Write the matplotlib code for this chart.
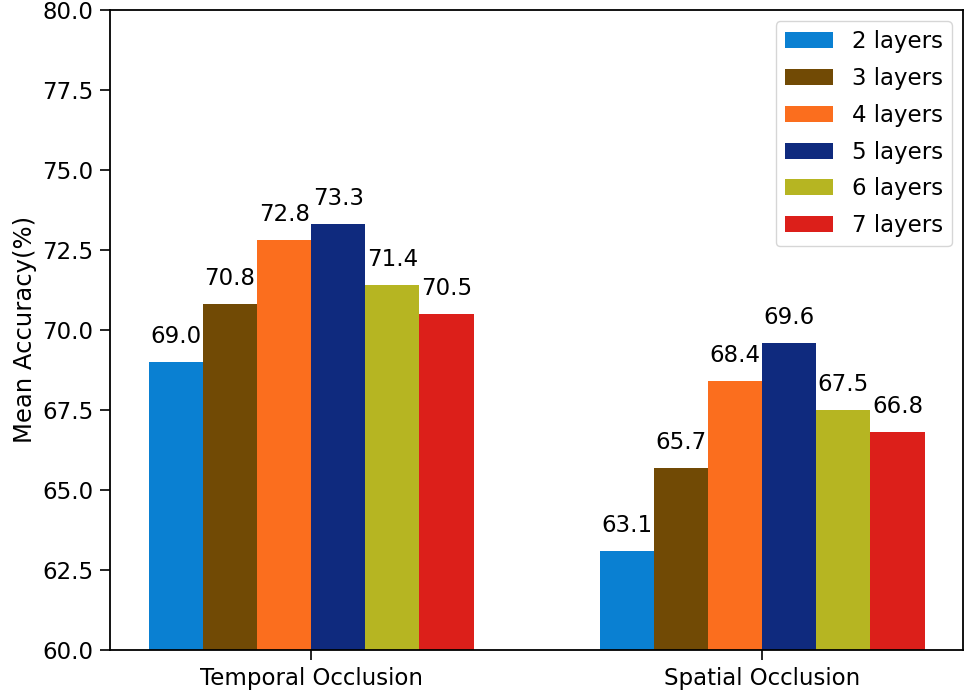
import matplotlib.pyplot as plt
import numpy as np

groups = ["Temporal Occlusion", "Spatial Occlusion"]
layer_labels = ["2 layers", "3 layers", "4 layers", "5 layers", "6 layers", "7 layers"]
temporal = [69.0, 70.8, 72.8, 73.3, 71.4, 70.5]
spatial = [63.1, 65.7, 68.4, 69.6, 67.5, 66.8]
colors = ["#0a80d2", "#714a05", "#fb6e1e", "#0f2a7e", "#b6b522", "#dc1f1a"]

fig = plt.figure(figsize=(9.74, 6.96), dpi=100)
ax = fig.add_axes([0.113, 0.066, 0.876, 0.920])

x = np.arange(len(groups))
width = 0.12
for i, lab in enumerate(layer_labels):
  vals = [temporal[i], spatial[i]]
  bars = ax.bar(x + (i - 2.5) * width, vals, width, color=colors[i], label=lab)
  for b, v in zip(bars, vals):
    ax.annotate("%.1f" % v, (b.get_x() + b.get_width() / 2, v),
                xytext=(0, 10), textcoords="offset points",
                ha="center", va="bottom", fontsize=16.5)

ax.set_ylim(60, 80)
ax.set_xticks(x)
ax.set_xticklabels(groups)
ax.tick_params(axis="both", labelsize=16.5, length=7, pad=5, width=1.2)
for s in ax.spines.values():
  s.set_linewidth(1.3)
ax.set_ylabel("Mean Accuracy(%)", fontsize=17.5, labelpad=4)
ax.legend(loc="upper right", fontsize=16.5, labelspacing=0.6, handlelength=2.1)

fig.savefig("out.png")
